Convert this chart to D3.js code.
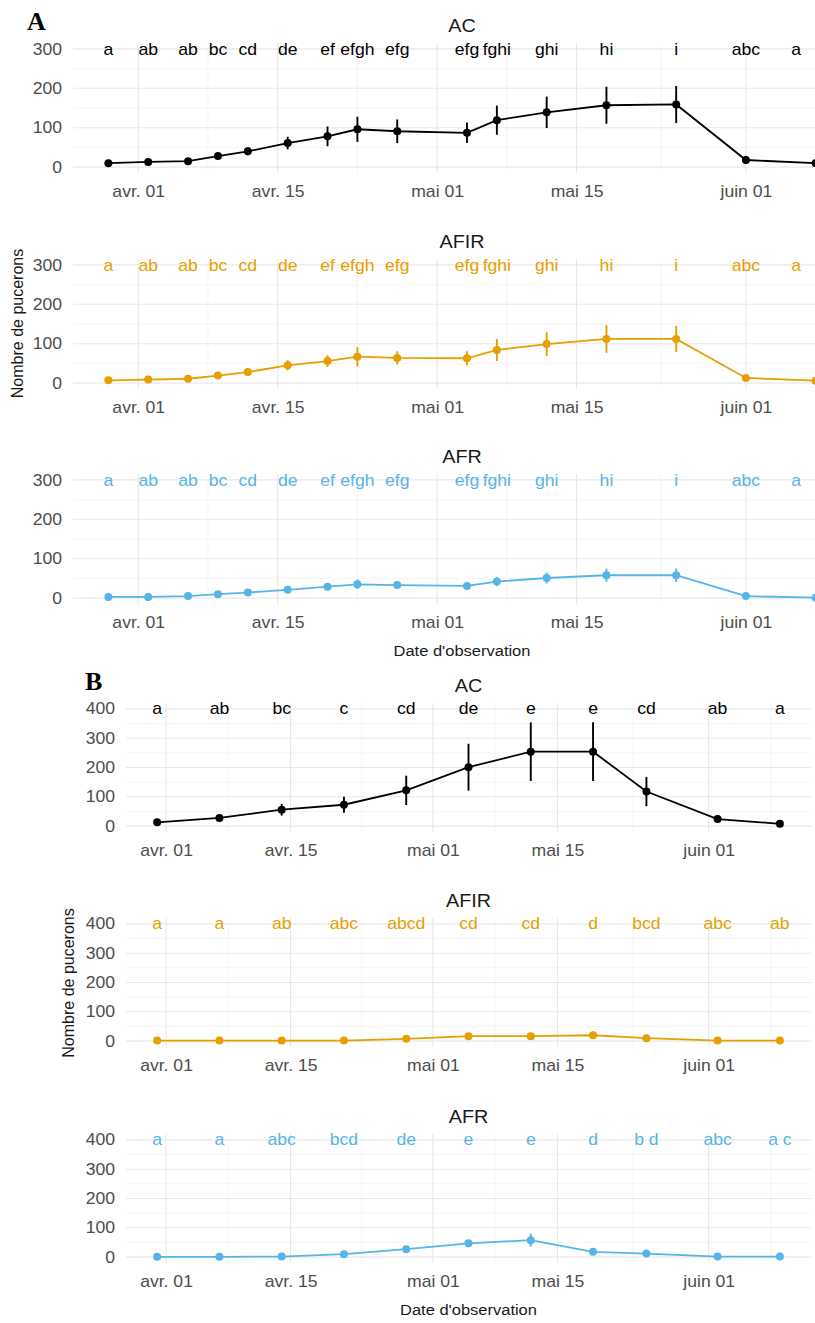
<!DOCTYPE html>
<html>
  <head>
    <meta charset="utf-8">
    <title>Nombre de pucerons</title>
    <script src="https://d3js.org/d3.v7.min.js"></script>
    <style>
      body { margin: 0; background: #fff; }
      svg { display: block; font-family: "Liberation Sans", Arial, sans-serif; }
    </style>
  </head>
  <body>
    <div id="chart"></div>
    <script>
      // ---- data ----
      const treatments = ["AC", "AFIR", "AFR"];
      const colours = ["#000000", "#E69F00", "#56B4E9"];
      const tickDates = ["2021-04-01", "2021-04-15", "2021-05-01", "2021-05-15", "2021-06-01"];
      const tickLabels = ["avr. 01", "avr. 15", "mai 01", "mai 15", "juin 01"];
      // dates used only to place the minor grid (ggplot style midpoints)
      const gridDates = ["2021-03-15", ...tickDates, "2021-06-15"];
      const yTicksA = [0, 100, 200, 300];
      const yTicksB = [0, 100, 200, 300, 400];

      // panel A
      const datesA = ["2021-03-29", "2021-04-02", "2021-04-06", "2021-04-09", "2021-04-12", "2021-04-16",
        "2021-04-20", "2021-04-23", "2021-04-27", "2021-05-04", "2021-05-07", "2021-05-12",
        "2021-05-18", "2021-05-25", "2021-06-01", "2021-06-08"];
      const lettersA = ["a", "ab", "ab", "bc", "cd", "de", "ef", "efgh", "efg", "efg", "fghi", "ghi", "hi", "i", "abc", "a"];
      const acA = [10, 13, 15, 28, 40, 61, 78, 96, 91, 87, 119, 139, 157, 159, 18, 10];
      const acErrA = [3, 3, 4, 6, 10, 16, 25, 32, 30, 26, 37, 40, 47, 47, 4, 3];
      const afirA = [7, 9, 11, 19, 28, 45, 56, 67, 64, 63, 84, 99, 112, 112, 13, 6];
      const afirErrA = [2, 2, 3, 5, 7, 13, 15, 24, 17, 18, 28, 30, 35, 33, 3, 2];
      const afrA = [3, 3, 5, 10, 14, 21, 29, 35, 33, 31, 42, 51, 58, 58, 5, 1];
      const afrErrA = [1, 1, 2, 3, 4, 6, 8, 12, 10, 9, 12, 14, 17, 17, 2, 1];

      // panel B
      const datesB = ["2021-03-31", "2021-04-07", "2021-04-14", "2021-04-21", "2021-04-28", "2021-05-05",
        "2021-05-12", "2021-05-19", "2021-05-25", "2021-06-02", "2021-06-09"];
      const lettersAcB = ["a", "ab", "bc", "c", "cd", "de", "e", "e", "cd", "ab", "a"];
      const lettersAfirB = ["a", "a", "ab", "abc", "abcd", "cd", "cd", "d", "bcd", "abc", "ab"];
      const lettersAfrB = ["a", "a", "abc", "bcd", "de", "e", "e", "d", "b d", "abc", "a c"];
      const acB = [13, 28, 56, 73, 122, 201, 254, 254, 118, 24, 8];
      const acErrB = [3, 6, 20, 27, 50, 80, 100, 100, 50, 5, 3];
      const afirB = [2, 2, 2, 2, 8, 17, 17, 20, 10, 2, 2];
      const afirErrB = [1, 1, 1, 1, 3, 4, 4, 4, 3, 1, 1];
      const afrB = [1, 1, 2, 10, 27, 47, 58, 18, 12, 2, 2];
      const afrErrB = [0, 0, 1, 3, 6, 10, 22, 4, 3, 1, 1];

      // ---- layout ----
      const width = 815;
      const parse = d3.utcParse("%Y-%m-%d");
      const stretch = "scale(1.1,1)";  // the source image is a bit wide
      const svg = d3.select("#chart").append("svg")
          .attr("width", width)
          .attr("height", 1323);

      const figures = [
        { tag: "A", tagX: 27, tagY: 30, dates: datesA, yTicks: yTicksA,
          letters: [lettersA, lettersA, lettersA],
          values: [acA, afirA, afrA], errors: [acErrA, afirErrA, afrErrA],
          left: 73, right: 851, tops: [43, 259, 474], height: 130, yTitleX: 18 },
        { tag: "B", tagX: 85, tagY: 690, dates: datesB, yTicks: yTicksB,
          letters: [lettersAcB, lettersAfirB, lettersAfrB],
          values: [acB, afirB, afrB], errors: [acErrB, afirErrB, afrErrB],
          left: 126, right: 811, tops: [703, 918, 1134], height: 129, yTitleX: 69 }
      ];

      figures.forEach(function(f) {
        const dates = f.dates.map(parse);
        const ext = d3.extent(dates);
        const pad = (ext[1] - ext[0]) * 0.05;
        const x = d3.scaleUtc()
          .domain([new Date(+ext[0] - pad), new Date(+ext[1] + pad)])
          .range([f.left, f.right]);
        const yMax = d3.max(f.yTicks);
        const majors = tickDates.map(parse);
        const g = gridDates.map(parse);
        const minors = d3.range(g.length - 1)
          .map(i => new Date((+g[i] + +g[i + 1]) / 2))
          .filter(d => d >= x.domain()[0] && d <= x.domain()[1]);

        treatments.forEach(function(name, k) {
          const top = f.tops[k];
          const y = d3.scaleLinear()
            .domain([-0.05 * yMax, 1.05 * yMax])
            .range([top + f.height, top]);
          const panel = svg.append("g");
          const yMinor = d3.range(f.yTicks.length - 1).map(i => (f.yTicks[i] + f.yTicks[i + 1]) / 2);

          // grid
          panel.selectAll(".hminor").data(yMinor).enter().append("line")
            .attr("x1", f.left).attr("x2", f.right)
            .attr("y1", d => y(d)).attr("y2", d => y(d))
            .attr("stroke", "#f2f2f2").attr("stroke-width", 0.8);
          panel.selectAll(".vminor").data(minors).enter().append("line")
            .attr("x1", d => x(d)).attr("x2", d => x(d))
            .attr("y1", top).attr("y2", top + f.height)
            .attr("stroke", "#f2f2f2").attr("stroke-width", 0.8);
          panel.selectAll(".hmajor").data(f.yTicks).enter().append("line")
            .attr("x1", f.left).attr("x2", f.right)
            .attr("y1", d => y(d)).attr("y2", d => y(d))
            .attr("stroke", "#e8e8e8").attr("stroke-width", 1.1);
          panel.selectAll(".vmajor").data(majors).enter().append("line")
            .attr("x1", d => x(d)).attr("x2", d => x(d))
            .attr("y1", top).attr("y2", top + f.height)
            .attr("stroke", "#e8e8e8").attr("stroke-width", 1.1);

          // axes
          const xa = panel.append("g")
            .attr("transform", "translate(0," + (top + f.height) + ")")
            .call(d3.axisBottom(x).tickValues(majors)
              .tickFormat((d, i) => tickLabels[i]).tickSize(0).tickPadding(13));
          const ya = panel.append("g")
            .attr("transform", "translate(" + f.left + ",0)")
            .call(d3.axisLeft(y).tickValues(f.yTicks).tickSize(0).tickPadding(10));
          [xa, ya].forEach(function(a) {
            a.select(".domain").remove();
            a.selectAll("text")
              .attr("font-size", 16)
              .attr("fill", "#4d4d4d")
              .attr("font-family", "Liberation Sans, Arial, sans-serif")
              .attr("transform", stretch);
          });

          // panel title
          panel.append("text")
            .attr("transform", "translate(" + ((f.left + f.right) / 2) + "," + (top - 11) + ") " + stretch)
            .attr("text-anchor", "middle")
            .attr("font-size", 18)
            .attr("fill", "#1a1a1a")
            .text(name);

          // series
          const pts = dates.map((d, i) => ({ date: d, v: f.values[k][i], e: f.errors[k][i], l: f.letters[k][i] }));
          const line = d3.line().x(d => x(d.date)).y(d => y(d.v));
          panel.append("path")
            .datum(pts)
            .attr("d", line)
            .attr("fill", "none")
            .attr("stroke", colours[k])
            .attr("stroke-width", 1.8);
          panel.selectAll(".err").data(pts).enter().append("line")
            .attr("x1", d => x(d.date)).attr("x2", d => x(d.date))
            .attr("y1", d => y(d.v - d.e)).attr("y2", d => y(d.v + d.e))
            .attr("stroke", colours[k])
            .attr("stroke-width", 1.9);
          panel.selectAll(".pt").data(pts).enter().append("circle")
            .attr("cx", d => x(d.date)).attr("cy", d => y(d.v))
            .attr("r", 4)
            .attr("fill", colours[k]);

          // significance letters, kept inside the picture
          const letters = panel.selectAll(".letter").data(pts).enter().append("text")
            .attr("dy", "0.35em")
            .attr("text-anchor", "middle")
            .attr("font-size", 16)
            .attr("fill", colours[k])
            .style("white-space", "pre")
            .text(d => d.l);
          letters.attr("transform", function(d) {
            const w = this.getComputedTextLength() * 1.1;
            const cx = Math.min(x(d.date), width - w / 2 - 14);
            return "translate(" + cx + "," + y(yMax) + ") " + stretch;
          });
        });

        // figure tag, axis titles
        svg.append("text")
          .attr("x", f.tagX).attr("y", f.tagY)
          .attr("font-family", "Liberation Serif, Times New Roman, serif")
          .attr("font-weight", "bold")
          .attr("font-size", 26)
          .text(f.tag);
        const bottom = f.tops[2] + f.height;
        svg.append("text")
          .attr("transform", "translate(" + ((f.left + f.right) / 2) + "," + (bottom + 52) + ") " + stretch)
          .attr("text-anchor", "middle")
          .attr("font-size", 15)
          .attr("fill", "#1a1a1a")
          .text("Date d'observation");
        svg.append("text")
          .attr("transform", "translate(" + (f.yTitleX + 5) + "," + ((f.tops[0] + bottom) / 2) + ") rotate(-90)")
          .attr("text-anchor", "middle")
          .attr("font-size", 16)
          .attr("fill", "#1a1a1a")
          .text("Nombre de pucerons");
      });
    </script>
  </body>
</html>
